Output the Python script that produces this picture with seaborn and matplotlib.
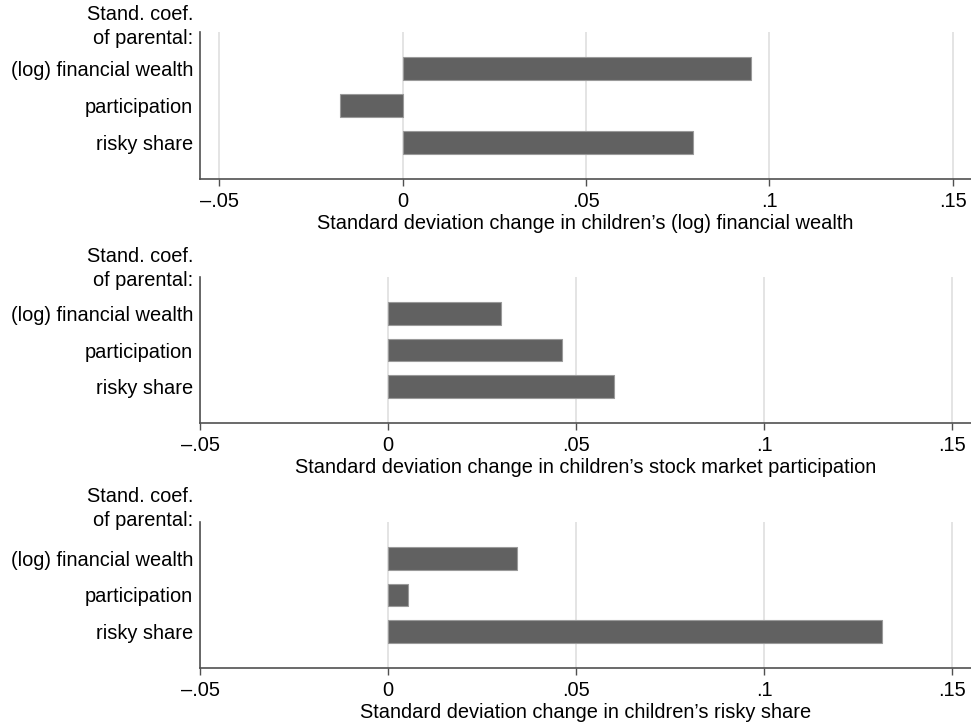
"""
Standardized coefficients of parental financial variables on children's outcomes.
Three stacked horizontal bar panels, one per child outcome.
"""

import matplotlib
matplotlib.use("Agg")
import matplotlib.pyplot as plt
import matplotlib.ticker as mticker
import pandas as pd
import seaborn as sns

# parental variables (bar categories, top to bottom)
parent_vars = ["(log) financial wealth", "participation", "risky share"]

# children's outcomes (one panel each)
child_outcomes = [
    "(log) financial wealth",
    "stock market participation",
    "risky share",
]

# standardized coefficients
coef_wealth = [0.0950, -0.0172, 0.0791]
coef_participation = [0.0301, 0.0463, 0.0601]
coef_risky = [0.0343, 0.0052, 0.1313]

x_ticks = [-0.05, 0, 0.05, 0.1, 0.15]

BAR = "#616161"
EDGE = "#9a9a9a"
GRID = "#e2e2e2"
SPINE = "#505050"
FS = 14.4


def fmt_tick(v, _pos=None):
    if abs(v) < 1e-12:
        return "0"
    s = f"{v:g}".replace("0.", ".")
    return s.replace("-", "\u2013")


def main():
    sns.set_theme(style="white")
    plt.rcParams["font.family"] = ["Liberation Sans", "DejaVu Sans"]
    plt.rcParams["text.color"] = "black"

    W, H = 971, 724
    fig = plt.figure(figsize=(W / 100, H / 100), dpi=100)

    # panel boxes in pixels: (top, bottom), label line centres, x min
    panels = [
        (32, 179, 15, 39, -0.0553),
        (277, 423, 256, 281, -0.05),
        (522, 668, 496, 521, -0.05),
    ]
    series = [coef_wealth, coef_participation, coef_risky]
    left_px, right_px = 200, 971

    for (top, bot, l1, l2, xmin), vals, outcome in zip(panels, series, child_outcomes):
        ax = fig.add_axes([
            left_px / W, 1 - bot / H,
            (right_px - left_px) / W, (bot - top) / H,
        ])
        df = pd.DataFrame({"parent": parent_vars, "coef": vals})
        sns.barplot(
            data=df, x="coef", y="parent", orient="h", order=parent_vars,
            color=BAR, saturation=1, width=0.62,
            edgecolor=EDGE, linewidth=0.8, ax=ax,
        )
        ax.set_ylim(3, -1)
        ax.set_xlim(xmin, 0.155)
        ax.set_xticks(x_ticks)
        ax.xaxis.set_major_formatter(mticker.FuncFormatter(fmt_tick))

        ax.xaxis.grid(True, color=GRID, linewidth=1.3)
        ax.yaxis.grid(False)
        ax.set_axisbelow(True)

        for side in ["top", "right"]:
            ax.spines[side].set_visible(False)
        for side in ["left", "bottom"]:
            ax.spines[side].set_color(SPINE)
            ax.spines[side].set_linewidth(1.2)

        ax.tick_params(axis="x", bottom=True, length=5, width=1, color=SPINE,
                       labelsize=FS, pad=4.5, labelcolor="black")
        ax.tick_params(axis="y", left=False, length=0, labelsize=FS, pad=5,
                       labelcolor="black")

        ax.set_ylabel("")
        ax.set_xlabel(f"Standard deviation change in children\u2019s {outcome}",
                      fontsize=FS, labelpad=2, color="black")

        tx = 193 / W
        fig.text(tx, 1 - l1 / H, "Stand. coef.", ha="right", va="center", fontsize=FS)
        fig.text(tx, 1 - l2 / H, "of parental:", ha="right", va="center", fontsize=FS)

    fig.savefig("out.png", dpi=100)


if __name__ == "__main__":
    main()
